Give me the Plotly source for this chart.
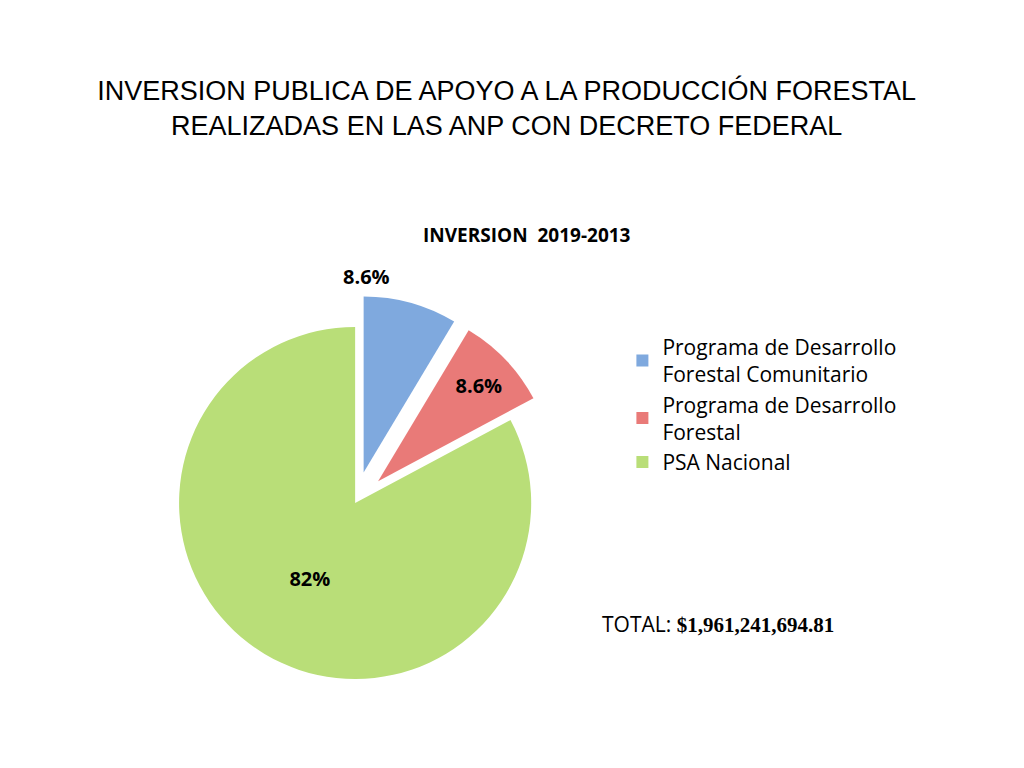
import plotly.graph_objects as go

labels = ["Programa de Desarrollo<br>Forestal Comunitario", "Programa de Desarrollo<br>Forestal", "PSA Nacional"]
values = [8.6, 8.6, 82.8]
text_labels = ["8.6%", "8.6%", "82%"]
colors = ["#7FA9DE", "#E97A78", "#B9DE78"]

fig = go.Figure(go.Pie(
    labels=labels,
    values=values,
    text=["", text_labels[1], text_labels[2]],
    texttemplate="<b>%{text}</b>",
    textposition=["none", "inside", "inside"],
    textfont=dict(size=20, color="black"),
    marker=dict(colors=colors),
    pull=[0.18, 0.18, 0],
    sort=False,
    direction="clockwise",
    rotation=0,
    domain=dict(x=[0.12, 0.558], y=[0.085, 0.626]),
    showlegend=True,
))

fig.update_layout(
    width=1024, height=768,
    paper_bgcolor="white", plot_bgcolor="white",
    font=dict(family="Open Sans, Liberation Sans, sans-serif", color="black"),
    margin=dict(l=0, r=0, t=0, b=0),
    title=dict(
        text="INVERSION PUBLICA DE APOYO A LA PRODUCCIÓN FORESTAL<br>REALIZADAS EN LAS ANP CON DECRETO FEDERAL",
        x=0.487, y=0.88, xanchor="center", yanchor="middle",
        font=dict(size=27, family="Liberation Sans, Arial, sans-serif"),
    ),
    legend=dict(x=0.6, y=0.585, xanchor="left", yanchor="top",
                font=dict(size=21), itemsizing="constant", tracegroupgap=30),
    annotations=[
        dict(text="<b>INVERSION  2019-2013</b>", x=0.507, y=0.724, xref="paper", yref="paper",
             showarrow=False, font=dict(size=19)),
        dict(text="<b>" + text_labels[0] + "</b>", x=0.325, y=0.651, xref="paper", yref="paper",
             showarrow=False, font=dict(size=20)),
        dict(text="TOTAL: <b><span style='font-family:Liberation Serif'>$1,961,241,694.81</span></b>",
             x=0.578, y=0.177, xref="paper", yref="paper", xanchor="left",
             showarrow=False, font=dict(size=21)),
    ],
)

fig.write_html("out.html")
